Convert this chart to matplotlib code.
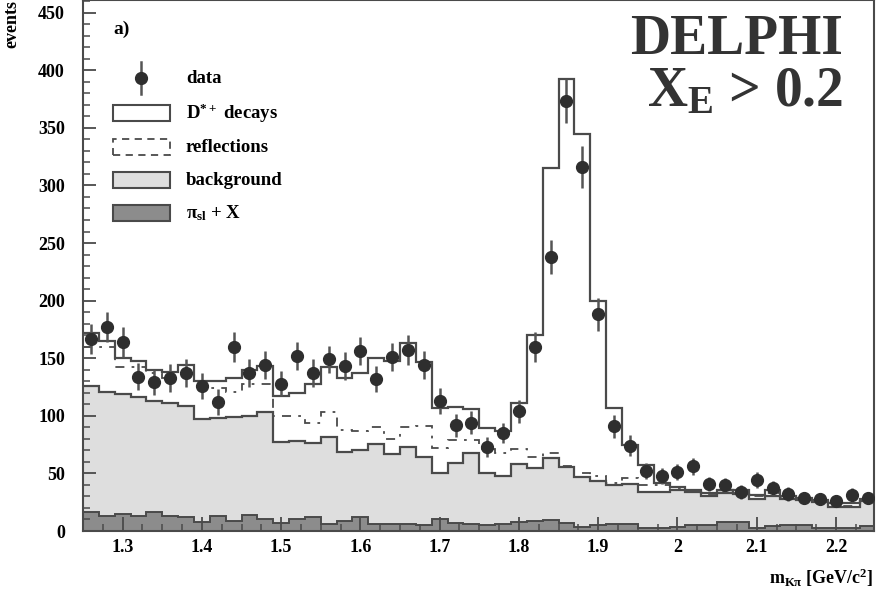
"""Kpi invariant mass spectrum with the stacked simulation components."""

import matplotlib

matplotlib.use("Agg")

import matplotlib.pyplot as plt  # noqa: E402
import numpy as np  # noqa: E402
from matplotlib.patches import Rectangle  # noqa: E402
from matplotlib.lines import Line2D  # noqa: E402
from matplotlib.ticker import MultipleLocator  # noqa: E402

# Binning: 50 bins of 20 MeV from 1.25 to 2.25 GeV.
M_LO = 1.25
BIN_W = 0.02
N_BINS = 50

# Observed events per bin and their errors.
data = [167, 177, 164, 134, 129, 133, 137, 126, 112, 160,
        137, 144, 128, 152, 137, 149, 143, 156, 132, 151,
        157, 144, 113, 92, 94, 73, 85, 104, 160, 238,
        373, 316, 188, 91, 74, 52, 48, 51, 56, 41,
        40, 34, 44, 37, 32, 29, 28, 26, 31, 29]
data_err = [13, 13, 13, 12, 11, 12, 12, 11, 11, 13,
            12, 12, 11, 12, 12, 12, 12, 12, 11, 12,
            13, 12, 11, 10, 10, 9, 9, 10, 13, 15,
            19, 18, 14, 10, 9, 7, 7, 7, 7, 6,
            6, 6, 7, 6, 6, 5, 5, 5, 6, 5]

# Stacked simulation, cumulative levels per bin.
total = [172, 165, 150, 148, 140, 138, 144, 130, 130, 133,
         140, 143, 117, 120, 128, 142, 133, 137, 150, 148,
         163, 147, 107, 108, 106, 89, 87, 111, 170, 315,
         392, 345, 200, 107, 75, 57, 42, 38, 36, 33,
         33, 36, 31, 36, 30, 29, 27, 24, 24, 28]
bkg_refl = [160, 160, 142, 142, 137, 133, 135, 127, 124, 121,
            128, 128, 100, 100, 94, 103, 88, 87, 90, 80,
            90, 91, 72, 79, 79, 71, 68, 71, 64, 68,
            56, 50, 48, 42, 46, 40, 40, 37, 36, 32,
            34, 33, 30, 33, 29, 27, 25, 22, 22, 26]
bkg = [126, 121, 118.6, 116, 113, 111, 108.5, 97, 98.4, 99,
       99.5, 103.5, 77, 78.4, 76.5, 82, 69, 70, 75.5, 67,
       73, 64.5, 50.6, 58.7, 67.4, 50.6, 47.7, 58, 54.4, 63,
       55.8, 47, 43.7, 40, 40.8, 34, 34, 35.6, 34, 30.4,
       35.6, 32, 28, 30, 28, 27, 25, 21, 21, 26]
pi_sl = [16.5, 13, 15, 13, 16.5, 13, 12, 8, 13, 9,
         13.6, 10, 7, 10, 12, 5.8, 8.7, 12, 5.8, 6.4,
         6.4, 5.2, 10.7, 7.2, 5.8, 5.2, 5.8, 8.1, 8.7, 9.3,
         7.2, 3.5, 5.2, 5.8, 6.4, 3, 3, 3.5, 5, 5.5,
         8, 8, 3, 4, 5.5, 5, 2.5, 3, 3, 4]

legend_labels = ["data", "D$^{*+}$ decays", "reflections", "background",
                 "$\\pi_{\\mathrm{sl}}$ + X"]

LINE = "#4a4a4a"
LIGHT = "#dedede"
DARK = "#8c8c8c"
POINT = "#2e2e2e"

plt.rcParams.update({
    "font.family": "Liberation Serif",
    "font.weight": "bold",
    "mathtext.fontset": "custom",
    "mathtext.rm": "Liberation Serif:bold",
    "mathtext.it": "Liberation Serif:bold",
    "mathtext.bf": "Liberation Serif:bold",
})

edges = np.round(M_LO + BIN_W * np.arange(N_BINS + 1), 3)
centers = 0.5 * (edges[:-1] + edges[1:])

fig = plt.figure(figsize=(8.76, 5.94), dpi=100)
ax = fig.add_axes([83 / 876, 63 / 594, 791 / 876, 531 / 594])

ax.stairs(bkg, edges, fill=True, color=LIGHT, zorder=1)
ax.stairs(bkg, edges, color=LINE, lw=1.6, baseline=None, zorder=2)
ax.stairs(pi_sl, edges, fill=True, color=DARK, zorder=1.1)
ax.stairs(pi_sl, edges, color=LINE, lw=1.4, baseline=None, zorder=2)
ax.stairs(bkg_refl, edges, color=LINE, lw=1.3, baseline=None,
          linestyle=(0, (5, 4, 1.5, 4)), zorder=2)
ax.stairs(total, edges, color=LINE, lw=1.6, baseline=None, zorder=2.1)

ax.errorbar(centers, data, yerr=data_err, fmt="o", ms=8.5, color=POINT,
            ecolor="#555555", elinewidth=1.8, capsize=0, zorder=3)

ax.set_xlim(M_LO, M_LO + BIN_W * N_BINS - 0.002)
ax.set_ylim(0, 461)
ax.xaxis.set_major_locator(MultipleLocator(0.1))
ax.xaxis.set_minor_locator(MultipleLocator(0.025))
ax.yaxis.set_major_locator(MultipleLocator(50))
ax.yaxis.set_minor_locator(MultipleLocator(10))
ax.set_xticks(ax.get_xticks())
ax.set_xticklabels([f"{t:g}" for t in ax.get_xticks()])
ax.set_xlim(M_LO, M_LO + BIN_W * N_BINS - 0.002)
ax.tick_params(which="both", direction="in", top=False, right=False,
               color=LINE, labelsize=13)
ax.tick_params(axis="y", which="major", length=9.5, width=1.3, pad=13)
ax.tick_params(axis="y", which="minor", length=5, width=1.1)
ax.tick_params(axis="x", which="major", length=10, width=1.3, pad=6)
ax.tick_params(axis="x", which="minor", length=5, width=1.1)
for spine in ax.spines.values():
    spine.set_color(LINE)
    spine.set_linewidth(1.5)

# Hand-built legend in the upper left corner.
ax.add_line(Line2D([0.0733, 0.0733], [0.823, 0.883], color="#555555",
                   lw=1.8, transform=ax.transAxes, zorder=4))
ax.add_line(Line2D([0.0733], [0.853], marker="o", ms=8.5, color=POINT,
                   transform=ax.transAxes, zorder=4))
box_styles = [
    dict(facecolor="white", edgecolor=LINE, lw=1.5),
    dict(facecolor="white", edgecolor=LINE, lw=1.3, linestyle=(0, (4, 3))),
    dict(facecolor=LIGHT, edgecolor=LINE, lw=1.5),
    dict(facecolor=DARK, edgecolor=LINE, lw=1.5),
]
box_y = [0.787, 0.723, 0.661, 0.599]
for yc, style in zip(box_y, box_styles):
    ax.add_patch(Rectangle((0.038, yc - 0.015), 0.072, 0.030,
                           transform=ax.transAxes, zorder=4, **style))
for yc, label in zip([0.853] + box_y, legend_labels):
    ax.text(0.130, yc, label, transform=ax.transAxes, fontsize=13.5,
            fontweight="bold", va="center", ha="left", zorder=4)

ax.text(0.038, 0.944, "a)", transform=ax.transAxes, fontsize=14,
        fontweight="bold", va="center", ha="left")
ax.text(0.961, 0.925, "DELPHI", transform=ax.transAxes, fontsize=40,
        fontweight="bold", va="center", ha="right", color="#333333")
ax.text(0.961, 0.826, "X$_{\\mathrm{E}}$ > 0.2", transform=ax.transAxes,
        fontsize=40, fontweight="bold", va="center", ha="right",
        color="#333333")

fig.text(0.014, 1.0, "events", rotation=90, fontsize=13, fontweight="bold",
         ha="center", va="top")
fig.text(0.997, 0.028, "m$_{\\mathrm{K\\pi}}$ [GeV/c$^{2}$]", fontsize=13,
         fontweight="bold", ha="right", va="center")

fig.savefig("out.png", dpi=100)
